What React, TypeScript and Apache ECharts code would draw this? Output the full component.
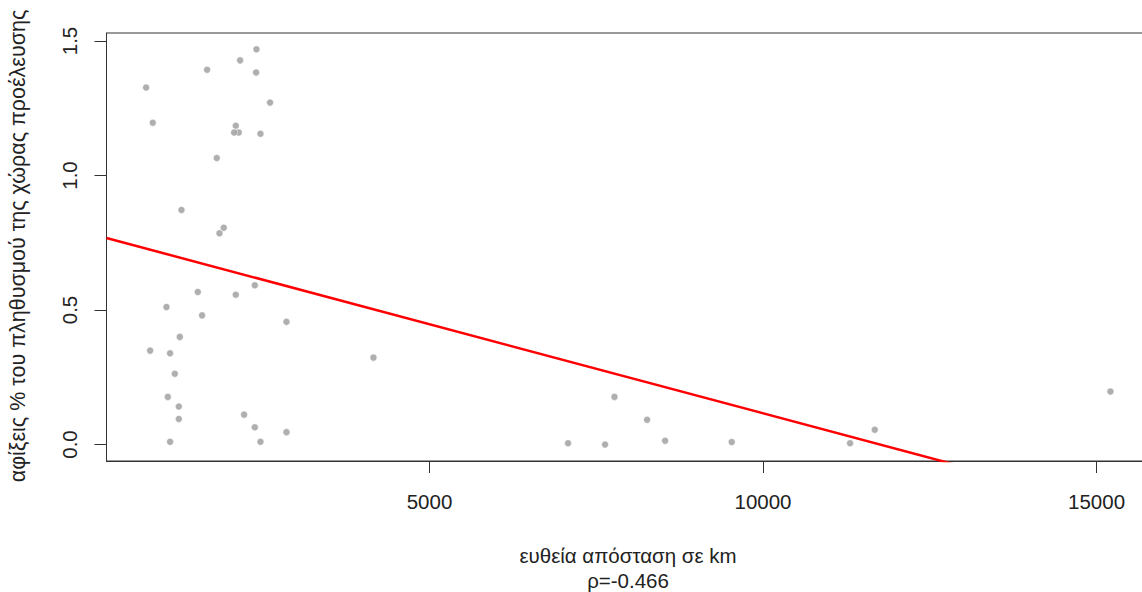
import React, { useEffect, useRef } from "react";
import * as echarts from "echarts";

// Straight-line distance (km) from each origin country
const distanceKm: number[] = [
  2406, 2161, 1666, 2401, 752, 2610, 852, 2096, 2141, 2071, 2466, 1811, 1282,
  1916, 1852, 1527, 2096, 2381, 1057, 1591, 2856, 1257, 812, 1111, 1182, 1077,
  1242, 1242, 2221, 2381, 2856, 1111, 2466,
  4160, 7773, 8262, 7077, 7632, 8532, 9531, 11305, 11675, 15208,
];

// Arrivals as % of the origin country's population
const arrivalsPct: number[] = [
  1.469, 1.428, 1.393, 1.383, 1.327, 1.271, 1.196, 1.185, 1.16, 1.16, 1.155,
  1.065, 0.872, 0.806, 0.785, 0.567, 0.557, 0.592, 0.511, 0.48, 0.456, 0.4,
  0.349, 0.339, 0.263, 0.177, 0.141, 0.095, 0.111, 0.064, 0.046, 0.01, 0.01,
  0.323, 0.177, 0.092, 0.005, 0.0, 0.014, 0.009, 0.005, 0.055, 0.197,
];

// Least-squares fit line
const fitIntercept = 0.778;
const fitSlope = -6.62e-5;

const xTicks: number[] = [5000, 10000, 15000];
const yTicks: number[] = [0, 0.5, 1, 1.5];

const xMin = 158;
const xMax = 15794;
const yMin = -0.0613;
const yMax = 1.5297;

const correlationText = "ρ=-0.466";
const xTitle = "ευθεία απόσταση σε km";
const yTitle = "αφίξεις % του πληθυσμού της χώρας προέλευσης";

const FONT = "'Liberation Sans', Arial, sans-serif";
const INK = "#222";

export default function App() {
  const ref = useRef<HTMLDivElement>(null);

  useEffect(() => {
    if (!ref.current) return;
    const chart = echarts.init(ref.current, null, { renderer: "svg" });

    const points = distanceKm.map((d, i) => [d, arrivalsPct[i]]);
    const fitLine = [
      [xMin, fitIntercept + fitSlope * xMin],
      [xMax, fitIntercept + fitSlope * xMax],
    ];

    chart.setOption({
      animation: false,
      backgroundColor: "#fff",
      grid: {
        left: 106.5,
        top: 33,
        width: 1043,
        height: 428,
        show: true,
        borderColor: "#333",
        borderWidth: 1,
        backgroundColor: "transparent",
        containLabel: false,
        outerBoundsMode: "none",
      },
      xAxis: {
        type: "value",
        min: xMin,
        max: xMax,
        splitLine: { show: false },
        axisLine: { show: true, onZero: false, lineStyle: { color: "#333", width: 1 } },
        axisTick: {
          show: true,
          inside: false,
          length: 12,
          customValues: xTicks,
          lineStyle: { color: "#333", width: 1 },
        },
        axisLabel: {
          customValues: xTicks,
          margin: 30,
          fontSize: 20.5,
          fontFamily: FONT,
          color: INK,
          showMinLabel: true,
          showMaxLabel: true,
          formatter: (v: number) => String(v),
        },
      },
      yAxis: {
        type: "value",
        min: yMin,
        max: yMax,
        splitLine: { show: false },
        axisLine: { show: true, onZero: false, lineStyle: { color: "#333", width: 1 } },
        axisTick: {
          show: true,
          inside: false,
          length: 12,
          customValues: yTicks,
          lineStyle: { color: "#333", width: 1 },
        },
        axisLabel: {
          customValues: yTicks,
          rotate: 90,
          margin: 27,
          fontSize: 20.5,
          fontFamily: FONT,
          color: INK,
          formatter: (v: number) => v.toFixed(1),
        },
      },
      series: [
        {
          type: "scatter",
          data: points,
          symbol: "circle",
          symbolSize: 7,
          itemStyle: { color: "#9b9b9b", borderColor: "#fff", borderWidth: 0.6 },
          z: 2,
        },
        {
          type: "line",
          data: fitLine,
          symbol: "none",
          clip: true,
          lineStyle: { color: "#ff0000", width: 2.5 },
          z: 3,
        },
      ],
      graphic: [
        {
          type: "text",
          x: 628,
          y: 555,
          style: {
            text: xTitle,
            font: `20.5px ${FONT}`,
            fill: INK,
            align: "center",
            verticalAlign: "middle",
          },
        },
        {
          type: "text",
          x: 628,
          y: 580,
          style: {
            text: correlationText,
            font: `20.5px ${FONT}`,
            fill: INK,
            align: "center",
            verticalAlign: "middle",
          },
        },
        {
          type: "text",
          x: 18,
          y: 246,
          rotation: Math.PI / 2,
          style: {
            text: yTitle,
            font: `21.5px ${FONT}`,
            fill: INK,
            align: "center",
            verticalAlign: "middle",
          },
        },
      ],
    });

    return () => chart.dispose();
  }, []);

  return (
    <div
      ref={ref}
      style={{ position: "fixed", left: 0, top: 0, width: 1142, height: 592 }}
    />
  );
}
